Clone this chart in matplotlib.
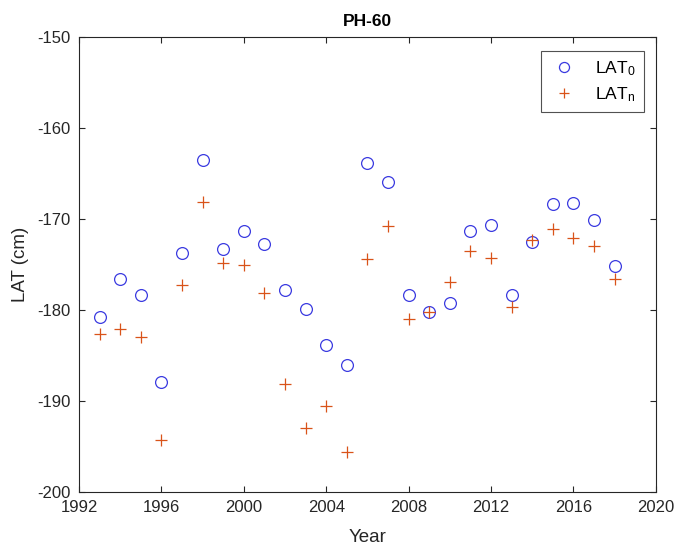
import numpy as np
import matplotlib
matplotlib.use('Agg')
import matplotlib.pyplot as plt

plt.rcParams['font.family'] = ['Liberation Sans', 'DejaVu Sans']
plt.rcParams['axes.unicode_minus'] = False
plt.rcParams['mathtext.default'] = 'regular'

years = np.arange(1993, 2019)

lat0 = np.array([-180.8, -176.6, -178.4, -187.9, -173.7, -163.5, -173.3, -171.3, -172.7,
                 -177.8, -179.9, -183.8, -186.0, -163.8, -165.9, -178.3, -180.2, -179.2,
                 -171.3, -170.7, -178.4, -172.5, -168.3, -168.2, -170.1, -175.2])

latn = np.array([-182.6, -182.1, -183.0, -194.3, -177.3, -168.1, -174.8, -175.0, -178.1,
                 -188.1, -193.0, -190.5, -195.6, -174.4, -170.8, -181.0, -180.2, -176.9,
                 -173.5, -174.3, -179.7, -172.3, -171.1, -172.1, -173.0, -176.6])

axcol = '#262626'

fig = plt.figure(figsize=(6.77, 5.46), dpi=100)
ax = fig.add_axes([0.1167, 0.099, 0.852, 0.833])

ax.plot(years, lat0, 'o', mfc='none', mec='#3a3ae0', ms=8.5, mew=0.9, label='LAT$_0$')
ax.plot(years, latn, '+', color='#D95319', ms=8, mew=0.9, label='LAT$_n$')

ax.set_xlim(1992, 2020)
ax.set_ylim(-200, -150)
ax.set_xticks(np.arange(1992, 2021, 4))
ax.set_yticks(np.arange(-200, -149, 10))

ax.tick_params(direction='in', top=True, right=True, labelsize=12, colors=axcol,
               length=4, pad=6)
for s in ax.spines.values():
    s.set_color(axcol)
    s.set_linewidth(0.8)

ax.set_xlabel('Year', fontsize=13.5, color=axcol, labelpad=10)
ax.set_ylabel('LAT (cm)', fontsize=13.5, color=axcol, labelpad=6)
ax.set_title('PH-60', fontsize=12.5, fontweight='bold', pad=8)

leg = ax.legend(loc='upper right', fontsize=12.5, fancybox=False, edgecolor=axcol,
                borderpad=0.45, handletextpad=0.9, labelspacing=0.45, markerscale=0.85,
                handlelength=1.8, borderaxespad=0, bbox_to_anchor=(0.979, 0.969))
leg.get_frame().set_linewidth(0.8)

fig.savefig('out.png', dpi=100)
